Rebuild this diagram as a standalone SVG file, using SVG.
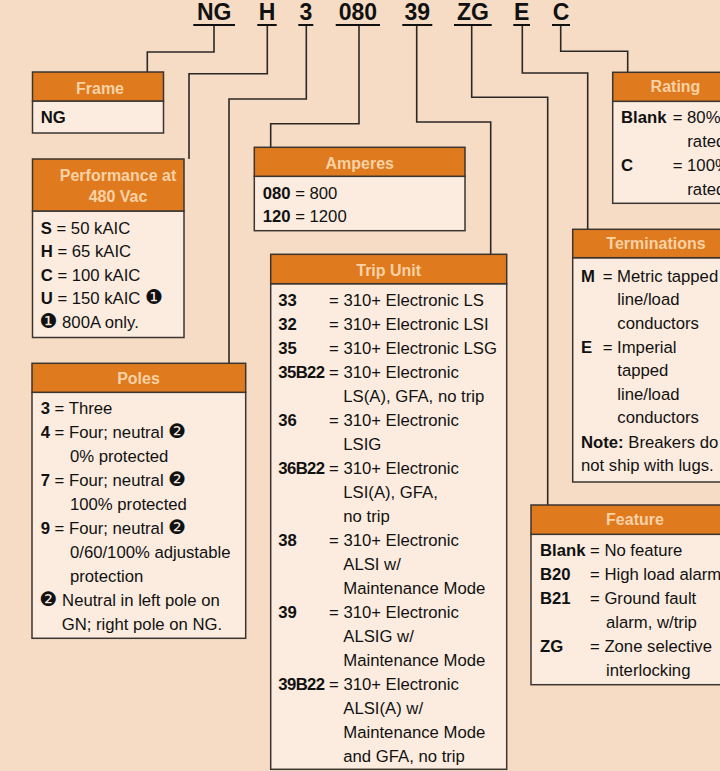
<svg xmlns="http://www.w3.org/2000/svg" width="720" height="771" viewBox="0 0 720 771">
<style>
  .bg{fill:#f6dcc4}
  .hdr{fill:#e07a1e;stroke:#3a3530;stroke-width:1.5}
  .body{fill:#fcecdf;stroke:#3a3530;stroke-width:1.5}
  .ht{font-family:"Liberation Sans",Arial,sans-serif;font-size:16px;font-weight:bold;fill:#f8d2a6;text-anchor:middle}
  .t{font-family:"Liberation Sans",Arial,sans-serif;font-size:16.7px;fill:#111}
  .b{font-weight:bold}
  .code{font-family:"Liberation Sans",Arial,sans-serif;font-size:23px;font-weight:bold;fill:#111;text-anchor:middle}
  .ul{stroke:#111;stroke-width:2}
  .con{fill:none;stroke:#2b2826;stroke-width:1.6}
  .d{font-family:"DejaVu Sans",sans-serif;font-size:20px}
</style>
<rect class="bg" x="0" y="0" width="720" height="771"/>

<g id="code">
  <text class="code" x="214.2" y="19.5">NG</text>
  <text class="code" x="267" y="19.5">H</text>
  <text class="code" x="305.8" y="19.5">3</text>
  <text class="code" x="357.9" y="19.5">080</text>
  <text class="code" x="417.3" y="19.5">39</text>
  <text class="code" x="472.9" y="19.5">ZG</text>
  <text class="code" x="521.7" y="19.5">E</text>
  <text class="code" x="561" y="19.5">C</text>
  <line class="ul" x1="193.3" y1="25" x2="235" y2="25"/>
  <line class="ul" x1="257.3" y1="25" x2="276.7" y2="25"/>
  <line class="ul" x1="298.3" y1="25" x2="313.3" y2="25"/>
  <line class="ul" x1="335.7" y1="25" x2="380" y2="25"/>
  <line class="ul" x1="402.3" y1="25" x2="432.3" y2="25"/>
  <line class="ul" x1="454" y1="25" x2="491.7" y2="25"/>
  <line class="ul" x1="513.3" y1="25" x2="530" y2="25"/>
  <line class="ul" x1="552" y1="25" x2="570" y2="25"/>
</g>

<g id="connectors">
  <path class="con" d="M214,26 V52 H147.3 V72"/>
  <path class="con" d="M267.3,26 V73.7 H189 V159"/>
  <path class="con" d="M306.3,26 V99 H229 V363.3"/>
  <path class="con" d="M359,26 V123.7 H270.7 V147.3"/>
  <path class="con" d="M416.7,26 V122 H490.7 V254.3"/>
  <path class="con" d="M471.7,26 V97.3 H547.7 V505"/>
  <path class="con" d="M522.3,26 V73 H587.7 V229.3"/>
  <path class="con" d="M560.7,26 V51.3 H627.7 V72.3"/>
</g>

<g id="frame">
  <rect class="body" x="32.5" y="101" width="131" height="32"/>
  <rect class="hdr" x="32.5" y="72" width="131" height="29"/>
  <text class="ht" x="100" y="94">Frame</text>
  <text class="t b" x="40.7" y="123.3">NG</text>
</g>

<g id="performance">
  <rect class="body" x="32.5" y="211" width="151.5" height="126.5"/>
  <rect class="hdr" x="32.5" y="159" width="151.5" height="52"/>
  <text class="ht" x="118" y="180.7">Performance at</text>
  <text class="ht" x="118" y="201.7">480 Vac</text>
  <text class="t" x="40.7" y="234"><tspan class="b">S</tspan> = 50 kAIC</text>
  <text class="t" x="40.7" y="257.3"><tspan class="b">H</tspan> = 65 kAIC</text>
  <text class="t" x="40.7" y="280.7"><tspan class="b">C</tspan> = 100 kAIC</text>
  <text class="t" x="40.7" y="304"><tspan class="b">U</tspan> = 150 kAIC <tspan class="d">❶</tspan></text>
  <text class="t" x="39.5" y="328.3"><tspan class="d">❶</tspan> 800A only.</text>
</g>

<g id="poles">
  <rect class="body" x="32" y="392.3" width="213.7" height="246"/>
  <rect class="hdr" x="32" y="363.3" width="213.7" height="29"/>
  <text class="ht" x="138.5" y="384">Poles</text>
  <text class="t" x="40.7" y="414"><tspan class="b">3</tspan> = Three</text>
  <text class="t" x="40.7" y="438.3"><tspan class="b">4</tspan> = Four; neutral <tspan class="d">❷</tspan></text>
  <text class="t" x="70" y="462.3">0% protected</text>
  <text class="t" x="40.7" y="486"><tspan class="b">7</tspan> = Four; neutral <tspan class="d">❷</tspan></text>
  <text class="t" x="70" y="510.3">100% protected</text>
  <text class="t" x="40.7" y="534.3"><tspan class="b">9</tspan> = Four; neutral <tspan class="d">❷</tspan></text>
  <text class="t" x="70" y="558.3">0/60/100% adjustable</text>
  <text class="t" x="70" y="582.3">protection</text>
  <text class="t" x="39.5" y="606"><tspan class="d">❷</tspan> Neutral in left pole on</text>
  <text class="t" x="61.7" y="630">GN; right pole on NG.</text>
</g>

<g id="amperes">
  <rect class="body" x="254.3" y="176.3" width="210.7" height="54.4"/>
  <rect class="hdr" x="254.3" y="147.3" width="210.7" height="29"/>
  <text class="ht" x="359.7" y="169.3">Amperes</text>
  <text class="t" x="262.7" y="199"><tspan class="b">080</tspan> = 800</text>
  <text class="t" x="262.7" y="222.3"><tspan class="b">120</tspan> = 1200</text>
</g>

<g id="trip-unit">
  <rect class="body" x="270.7" y="283.7" width="236" height="485.6"/>
  <rect class="hdr" x="270.7" y="254.3" width="236" height="29.4"/>
  <text class="ht" x="388.7" y="275.7">Trip Unit</text>
  <g class="t">
    <text class="b" x="278.3" y="305.7">33</text><text x="329" y="305.7">= 310+ Electronic LS</text>
    <text class="b" x="278.3" y="329.7">32</text><text x="329" y="329.7">= 310+ Electronic LSI</text>
    <text class="b" x="278.3" y="353.7">35</text><text x="329" y="353.7">= 310+ Electronic LSG</text>
    <text class="b" x="278.3" y="377.7" letter-spacing="-0.6">35B22</text><text x="329" y="377.7">= 310+ Electronic</text>
    <text x="343.3" y="401.7">LS(A), GFA, no trip</text>
    <text class="b" x="278.3" y="425.7">36</text><text x="329" y="425.7">= 310+ Electronic</text>
    <text x="343.3" y="449.7">LSIG</text>
    <text class="b" x="278.3" y="473.7" letter-spacing="-0.6">36B22</text><text x="329" y="473.7">= 310+ Electronic</text>
    <text x="343.3" y="497.7">LSI(A), GFA,</text>
    <text x="343.3" y="521.7">no trip</text>
    <text class="b" x="278.3" y="545.7">38</text><text x="329" y="545.7">= 310+ Electronic</text>
    <text x="343.3" y="569.7">ALSI w/</text>
    <text x="343.3" y="593.7">Maintenance Mode</text>
    <text class="b" x="278.3" y="617.7">39</text><text x="329" y="617.7">= 310+ Electronic</text>
    <text x="343.3" y="641.7">ALSIG w/</text>
    <text x="343.3" y="665.7">Maintenance Mode</text>
    <text class="b" x="278.3" y="689.7" letter-spacing="-0.6">39B22</text><text x="329" y="689.7">= 310+ Electronic</text>
    <text x="343.3" y="713.7">ALSI(A) w/</text>
    <text x="343.3" y="737.7">Maintenance Mode</text>
    <text x="343.3" y="761.7">and GFA, no trip</text>
  </g>
</g>

<g id="rating">
  <rect class="body" x="612.7" y="101.3" width="130" height="102"/>
  <rect class="hdr" x="612.7" y="72.3" width="130" height="29"/>
  <text class="ht" x="675.5" y="92.3">Rating</text>
  <g class="t">
    <text class="b" x="621" y="123.3">Blank</text><text x="672.7" y="123.3">= 80%</text>
    <text x="687.3" y="147.3">rated</text>
    <text class="b" x="621" y="171">C</text><text x="672.7" y="171">= 100%</text>
    <text x="687.3" y="194.7">rated</text>
  </g>
</g>

<g id="terminations">
  <rect class="body" x="572.7" y="257.7" width="170" height="224.3"/>
  <rect class="hdr" x="572.7" y="229.3" width="170" height="28.4"/>
  <text class="ht" x="656" y="249">Terminations</text>
  <g class="t">
    <text class="b" x="581" y="281.7">M</text><text x="602.7" y="281.7">= Metric tapped</text>
    <text x="617.3" y="305.3">line/load</text>
    <text x="617.3" y="329">conductors</text>
    <text class="b" x="581" y="352.5">E</text><text x="602.7" y="352.5">= Imperial</text>
    <text x="617.3" y="376">tapped</text>
    <text x="617.3" y="399.7">line/load</text>
    <text x="617.3" y="423.3">conductors</text>
    <text x="581" y="447.5"><tspan class="b">Note:</tspan> Breakers do</text>
    <text x="581" y="470.7">not ship with lugs.</text>
  </g>
</g>

<g id="feature">
  <rect class="body" x="531" y="534.3" width="212" height="150.4"/>
  <rect class="hdr" x="531" y="505" width="212" height="29.3"/>
  <text class="ht" x="635" y="525">Feature</text>
  <g class="t">
    <text class="b" x="540" y="556">Blank</text><text x="590" y="556">= No feature</text>
    <text class="b" x="540" y="580">B20</text><text x="590" y="580">= High load alarm</text>
    <text class="b" x="540" y="604">B21</text><text x="590" y="604">= Ground fault</text>
    <text x="606" y="628">alarm, w/trip</text>
    <text class="b" x="540" y="652">ZG</text><text x="590" y="652">= Zone selective</text>
    <text x="606" y="676">interlocking</text>
  </g>
</g>
</svg>
